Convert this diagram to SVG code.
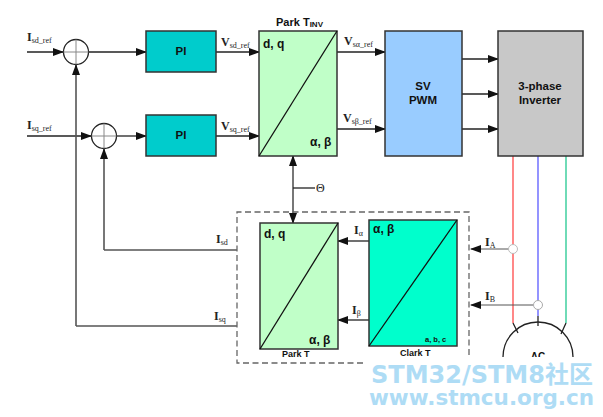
<svg xmlns="http://www.w3.org/2000/svg" width="603" height="417" viewBox="0 0 603 417">
<style>
.box{stroke:#333;stroke-width:1.5}
.diag{stroke:#111;stroke-width:1.3;fill:none}
.c{fill:none;stroke:#222;stroke-width:1.3}
.g{fill:none;stroke:#555;stroke-width:1.6}
text{font-family:"Liberation Sans",Arial,sans-serif;fill:#111}
.b{font-weight:bold;font-size:12px}
.m{font-weight:bold;font-size:11.5px;text-anchor:middle}
.s{font-family:"Liberation Serif","Times New Roman",serif;font-size:12px;font-weight:bold;fill:#222}
.s tspan{font-size:8px;font-weight:normal}
.wm{font-family:"DejaVu Sans","Noto Sans CJK SC",sans-serif;font-weight:bold;fill:#aedcf5}
</style>
<defs>
<marker id="a" markerWidth="11" markerHeight="8" refX="10" refY="4" orient="auto" markerUnits="userSpaceOnUse"><path d="M0 0L11 4L0 8Z" fill="#111"/></marker>
</defs>
<rect width="603" height="417" fill="#fff"/>
<g id="connectors">
<path class="c" d="M27 52H63" marker-end="url(#a)"/>
<path class="c" d="M89 52H146" marker-end="url(#a)"/>
<path class="c" d="M27 136H91" marker-end="url(#a)"/>
<path class="c" d="M117 136H146" marker-end="url(#a)"/>
<path class="c" d="M216 52H259" marker-end="url(#a)"/>
<path class="c" d="M216 136H259" marker-end="url(#a)"/>
<path class="c" d="M337 52H385" marker-end="url(#a)"/>
<path class="c" d="M337 129H385" marker-end="url(#a)"/>
<path class="c" d="M462 59H498" marker-end="url(#a)"/>
<path class="c" d="M462 94H498" marker-end="url(#a)"/>
<path class="c" d="M462 129H498" marker-end="url(#a)"/>
<path class="g" d="M76 326V65" marker-end="url(#a)"/>
<path class="g" d="M104 250V149" marker-end="url(#a)"/>
<path class="g" d="M76 326H237"/>
<path class="g" d="M104 250H237"/>
<path class="g" d="M293 188V156" marker-end="url(#a)"/>
<path class="g" d="M293 188V223" marker-end="url(#a)"/>
<path class="c" d="M293 188H315"/>
<path class="c" d="M369 241H338" marker-end="url(#a)"/>
<path class="c" d="M369 320H338" marker-end="url(#a)"/>
<path fill="none" stroke="#f55" stroke-width="1.4" d="M513 156V323"/>
<path fill="none" stroke="#66f" stroke-width="1.4" d="M538 156V316"/>
<path fill="none" stroke="#3c9" stroke-width="1.4" d="M566 156V323"/>
<path class="c" d="M538 316V326M513 323L518 333M566 323L561 334"/>
<path class="g" style="stroke-width:1" d="M509 249H471" marker-end="url(#a)"/>
<path class="g" style="stroke-width:1" d="M533 305H471" marker-end="url(#a)"/>
<circle cx="513" cy="249" r="4.5" fill="#fff" stroke="#bbb"/>
<circle cx="538" cy="305" r="4.5" fill="#fff" stroke="#aaa"/>
</g>
<g id="sum1"><circle class="c" cx="76" cy="52" r="12.5"/><path stroke="#888" d="M63.500 52H88.500M76 39.500V64.500"/></g>
<g id="sum2"><circle class="c" cx="104" cy="136" r="12.500"/><path stroke="#888" d="M91.500 136H116.500M104 123.500V148.500"/></g>
<g id="pi1"><rect class="box" x="146" y="31" width="70" height="41" fill="#00cccc"/><text class="m" x="181" y="55">PI</text></g>
<g id="pi2"><rect class="box" x="146" y="115" width="70" height="41" fill="#00cccc"/><text class="m" x="181" y="139">PI</text></g>
<g id="park-inv"><rect class="box" x="259" y="31" width="78" height="125" fill="#c0ffc8"/><path class="diag" d="M259 156L337 31"/><text class="b" x="263" y="48">d, q</text><text class="b" x="310" y="146">α, β</text><text x="276" y="26" font-size="11" font-weight="bold">Park T<tspan font-size="8" dy="1">INV</tspan></text></g>
<g id="sv-pwm"><rect class="box" x="385" y="31" width="77" height="125" fill="#99ccff"/><text class="m" x="423" y="90">SV</text><text class="m" x="423" y="104">PWM</text></g>
<g id="inverter"><rect class="box" x="498" y="31" width="85" height="125" fill="#c8c8c8"/><text class="m" x="540" y="90">3-phase</text><text class="m" x="540" y="104">Inverter</text></g>
<g id="park-t"><rect class="box" x="260" y="223" width="78" height="126" fill="#c0ffc8"/><path class="diag" d="M260 349L338 223"/><text class="b" x="264" y="238">d, q</text><text class="b" x="309" y="344">α, β</text><text x="282" y="357" font-size="9" font-weight="bold">Park T</text></g>
<g id="clark-t"><rect class="box" x="369" y="220" width="88" height="126" fill="#00ffcc"/><path class="diag" d="M369 346L457 220"/><text class="b" x="373" y="233">α, β</text><text x="425" y="342" font-size="7.500" font-weight="bold">a, b, c</text><text x="400" y="356" font-size="9" font-weight="bold">Clark T</text></g>
<g id="measure"><path fill="none" stroke="#666" stroke-width="1.300" stroke-dasharray="6 3.500" d="M469 355V212H237V363H366"/></g>
<g id="labels">
<text class="s" x="27" y="41">I<tspan dy="2">sd_ref</tspan></text>
<text class="s" x="27" y="129">I<tspan dy="2">sq_ref</tspan></text>
<text class="s" x="221" y="46">V<tspan dy="2">sd_ref</tspan></text>
<text class="s" x="221" y="130">V<tspan dy="2">sq_ref</tspan></text>
<text class="s" x="344" y="45">V<tspan dy="2">sα_ref</tspan></text>
<text class="s" x="343" y="122">V<tspan dy="2">sβ_ref</tspan></text>
<text class="s" x="316" y="192" style="font-weight:normal">Θ</text>
<text class="s" x="216" y="243">I<tspan dy="2">sd</tspan></text>
<text class="s" x="214" y="320">I<tspan dy="2">sq</tspan></text>
<text class="s" x="354" y="234">I<tspan dy="2">α</tspan></text>
<text class="s" x="352" y="314">I<tspan dy="2">β</tspan></text>
<text class="s" x="485" y="246">I<tspan dy="2">A</tspan></text>
<text class="s" x="485" y="300">I<tspan dy="2">B</tspan></text>
</g>
<g id="motor"><path class="c" d="M503 357A35 35 0 0 1 573 357"/><text class="m" x="538" y="360" style="font-size:10px">AC</text></g>
<rect x="372" y="357" width="231" height="60" fill="#fff"/>
<g id="watermark"><text class="wm" x="371" y="383" font-size="24">STM32/STM8社区</text><text class="wm" x="369" y="405" font-size="21.500">www.stmcu.org.cn</text></g>
</svg>
